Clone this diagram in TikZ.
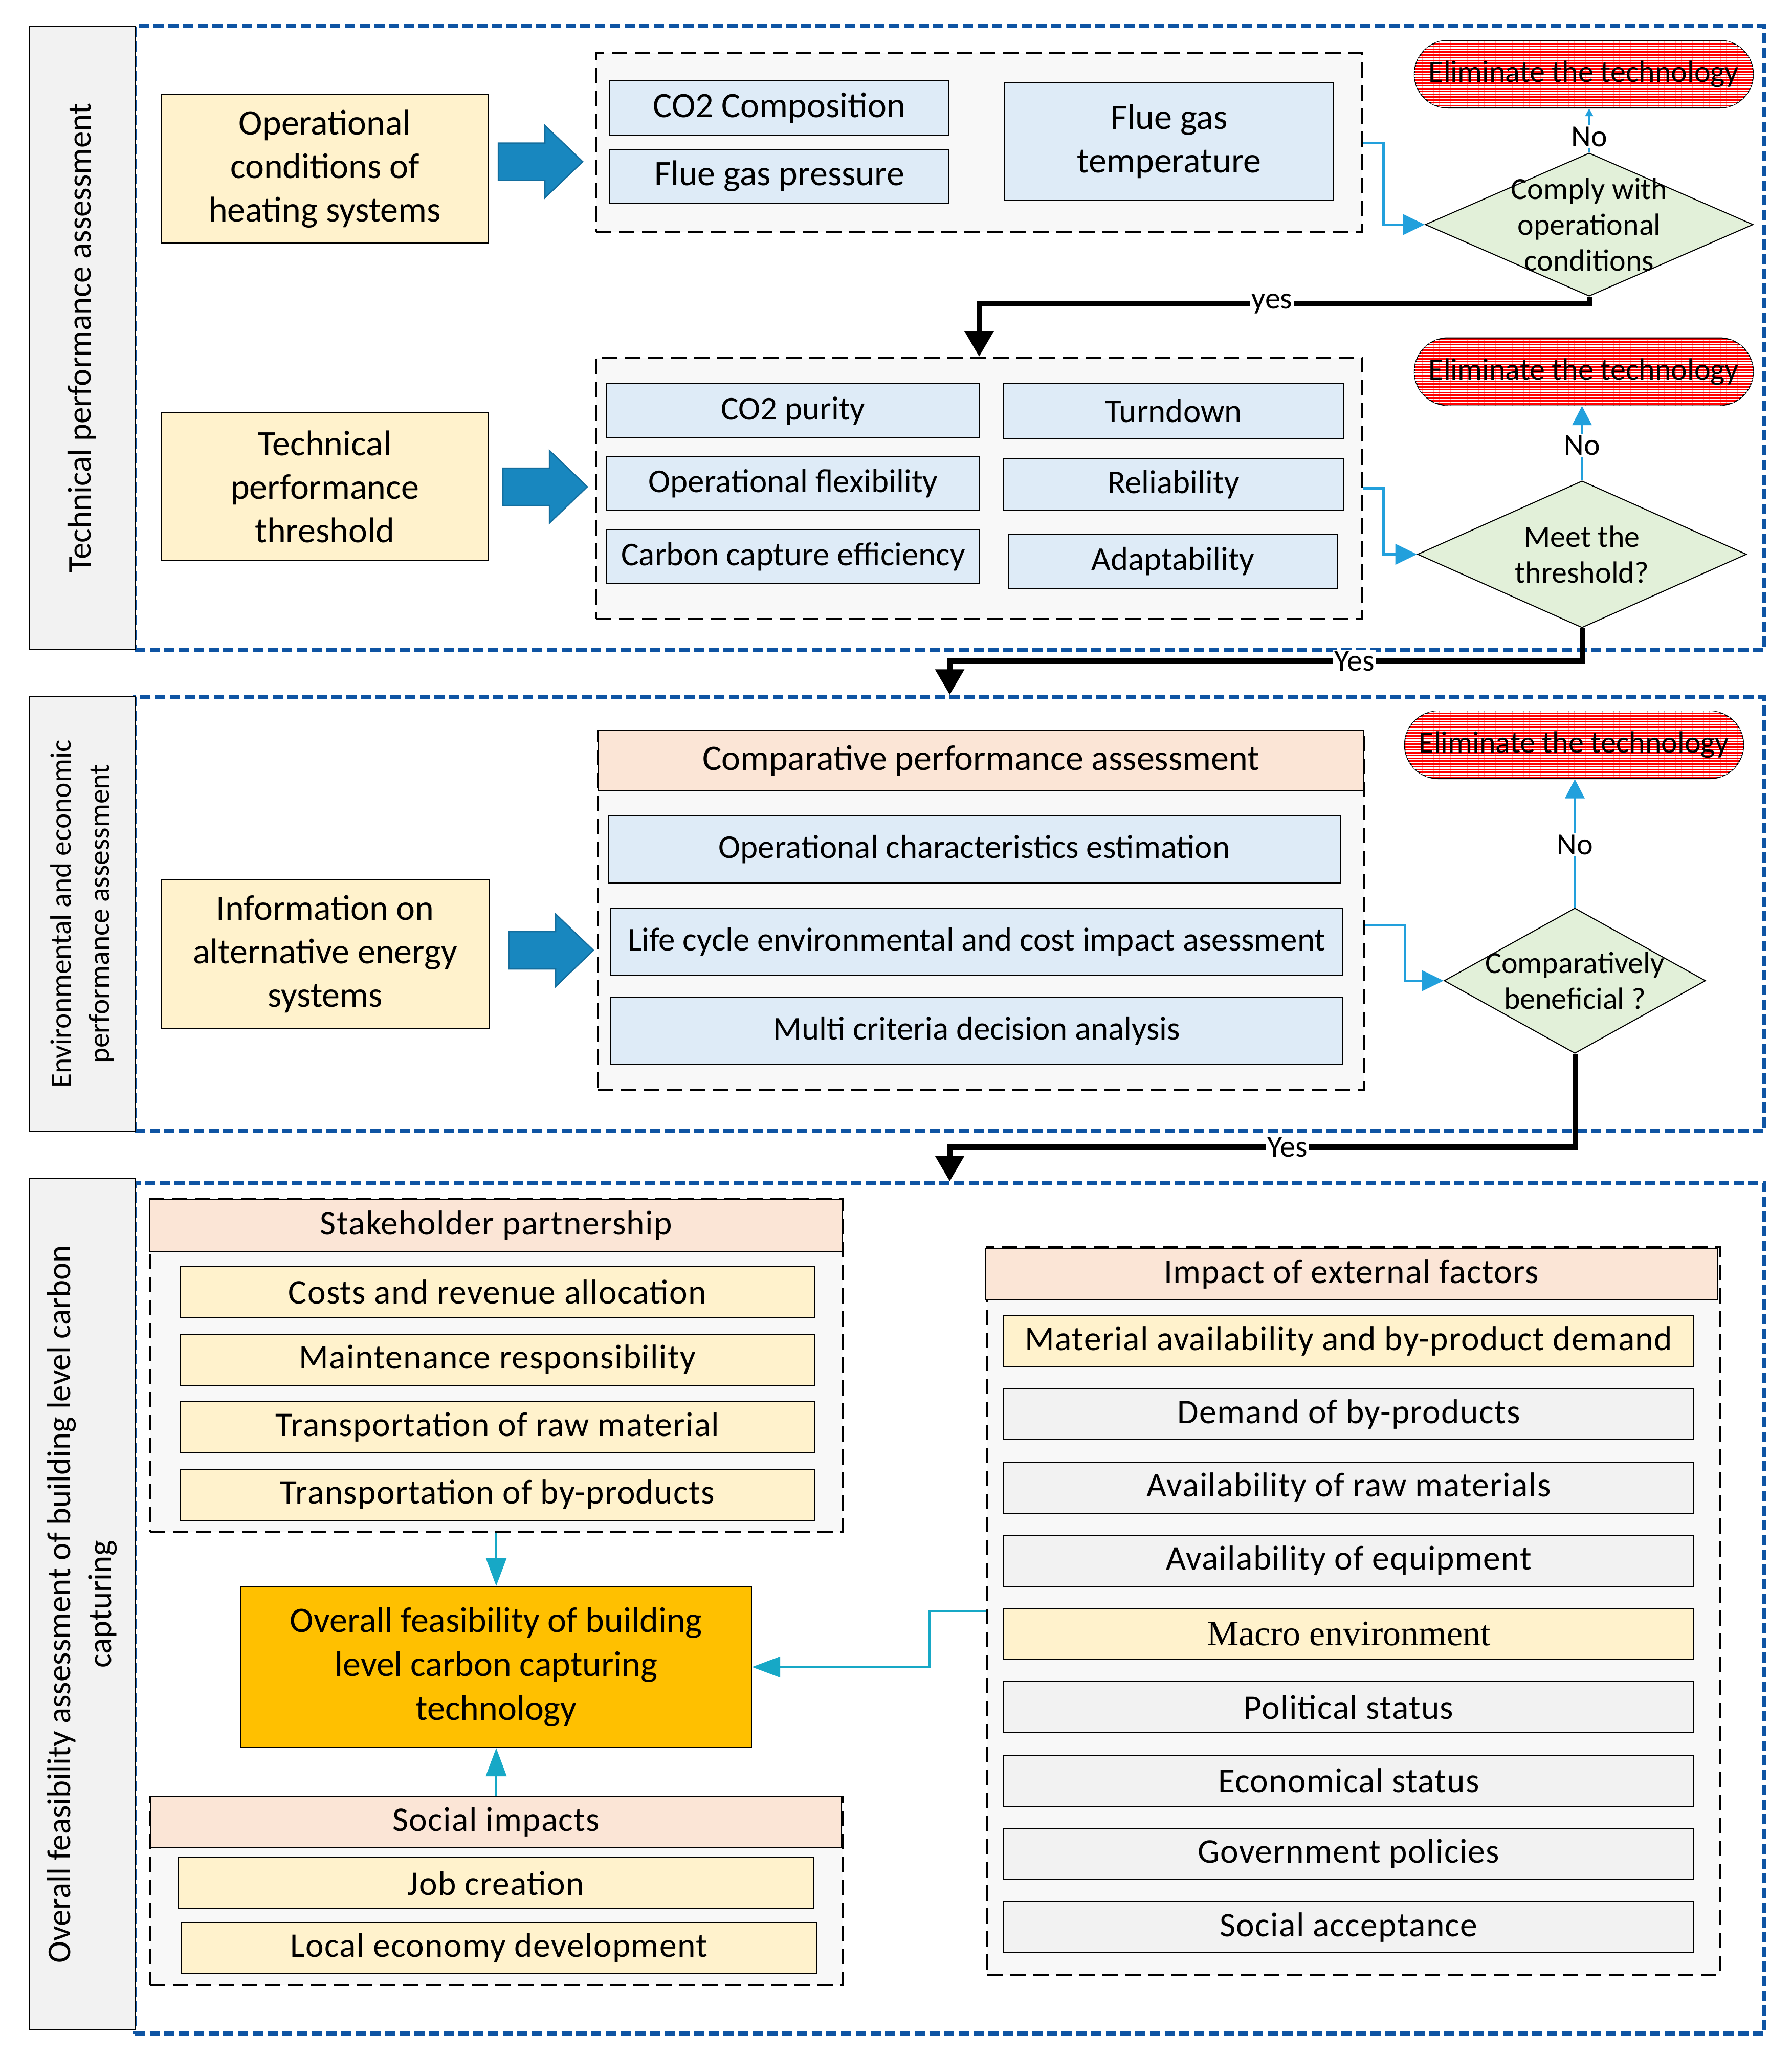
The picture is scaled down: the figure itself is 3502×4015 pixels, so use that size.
\documentclass[tikz,border=0pt]{standalone}
\usepackage{fontspec}
\setmainfont{Carlito}
\newfontfamily\macrofont{Liberation Serif}
\usepackage{tikz}
\usetikzlibrary{shapes.geometric, shapes.misc, arrows.meta, positioning, patterns.meta}
\definecolor{frameblue}{RGB}{14,84,163}
\definecolor{boxyellow}{RGB}{255,242,204}
\definecolor{boxblue}{RGB}{222,235,247}
\definecolor{boxgreen}{RGB}{226,240,217}
\definecolor{boxpeach}{RGB}{251,229,214}
\definecolor{boxgray}{RGB}{242,242,242}
\definecolor{groupgray}{RGB}{248,248,248}
\definecolor{arrowblue}{RGB}{24,135,191}
\definecolor{arrowedge}{RGB}{20,110,158}
\definecolor{linkblue}{RGB}{34,160,220}
\definecolor{linkteal}{RGB}{23,168,198}
\definecolor{overallorange}{RGB}{255,192,0}

\begin{document}
\begin{tikzpicture}[x=0.4pt, y=-0.4pt]
        \tikzstyle{frame} = [rectangle, draw=frameblue, line width=3pt, dash pattern=on 8pt off 3.5pt, inner sep=0pt]
        \tikzstyle{sidebox} = [rectangle, draw=black, fill=boxgray, line width=0.8pt, rotate=90, align=center, inner sep=0pt]
        \tikzstyle{source} = [rectangle, draw=black, fill=boxyellow, line width=0.8pt, align=center, inner sep=0pt, font=\fontsize{28}{34}\selectfont]
        \tikzstyle{group} = [rectangle, draw=black, fill=groupgray, line width=1.5pt, dash pattern=on 12pt off 6pt, inner sep=0pt]
        \tikzstyle{item} = [rectangle, draw=black, fill=boxblue, line width=0.8pt, align=center, inner sep=0pt, font=\fontsize{28}{34}\selectfont]
        \tikzstyle{smallitem} = [item, font=\fontsize{26}{32}\selectfont]
        \tikzstyle{header} = [rectangle, draw=black, fill=boxpeach, line width=0.8pt, inner sep=0pt, font=\fontsize{28}{34}\selectfont]
        \tikzstyle{factor} = [rectangle, draw=black, fill=boxyellow, line width=0.8pt, inner sep=0pt, minimum height=40pt, font=\fontsize{27}{32}\selectfont\addfontfeatures{LetterSpace=2}]
        \tikzstyle{grayfactor} = [factor, fill=boxgray, minimum width=539.6pt]
        \tikzstyle{decision} = [diamond, draw=black, fill=boxgreen, line width=0.8pt, inner sep=0pt]
        \tikzstyle{decisiontext} = [align=center, inner sep=0pt, font=\fontsize{24}{28}\selectfont]
        \tikzstyle{eliminate} = [rounded rectangle, draw=black, line width=0.8pt, fill=red, postaction={pattern={Lines[angle=0,distance=2.2pt,line width=1pt]}, pattern color=white}, minimum width=265pt, minimum height=52.8pt, inner sep=0pt, font=\fontsize{24}{28}\selectfont]
        \tikzstyle{overall} = [rectangle, draw=black, fill=overallorange, line width=0.8pt, align=center, inner sep=0pt, font=\fontsize{28}{34.4}\selectfont]
        \tikzstyle{bigarrow} = [fill=arrowblue, draw=arrowedge, line width=1pt]
        \tikzstyle{link} = [draw=linkblue, line width=2pt, -{Triangle[length=17pt,width=16pt]}]
        \tikzstyle{nolink} = [draw=linkblue, line width=2pt, -{Triangle[length=15pt,width=15pt]}]
        \tikzstyle{feed} = [draw=linkteal, line width=1.8pt, -{Triangle[length=22pt,width=16pt]}]
        \tikzstyle{flow} = [draw=black, line width=4pt, -{Triangle[length=20pt,width=22pt]}]
        \tikzstyle{flowlabel} = [fill=white, inner sep=1pt, font=\fontsize{24}{28}\selectfont]

        \useasboundingbox (0,0) rectangle (3502,4015);

        % section frames and side titles
        \node (frame1) [frame, minimum width=1274pt, minimum height=487.6pt] at (1856.5,660.5) {};
        \node (frame2) [frame, minimum width=1274pt, minimum height=339.2pt] at (1856.5,1786) {};
        \node (frame3) [frame, minimum width=1274pt, minimum height=664.8pt] at (1856.5,3144) {};
        \node (side1) [sidebox, minimum width=487.6pt, minimum height=82.8pt, font=\fontsize{26}{32}\selectfont] at (160.5,660.5) {Technical performance assessment};
        \node (side2) [sidebox, minimum width=339.6pt, minimum height=82.8pt, font=\fontsize{23}{30}\selectfont] at (160.5,1786.5) {Environmental and economic\\performance assessment};
        \node (side3) [sidebox, minimum width=665.2pt, minimum height=82.8pt, font=\fontsize{26}{32}\selectfont] at (160.5,3135.5) {Overall feasibility assessment of building level carbon\\capturing};

        % technical performance
        \node (ops) [source, minimum width=255.2pt, minimum height=116pt] at (635,330) {Operational\\conditions of\\heating systems};
        \node (thresh) [source, minimum width=255.2pt, minimum height=116pt] at (635,951) {Technical\\performance\\threshold};
        \node (info) [source, minimum width=256.4pt, minimum height=116pt] at (635.5,1865) {Information on\\alternative energy\\systems};

        \foreach \ax/\ay in {974/316, 983/951.5, 995/1857.5}
            \draw [bigarrow] (\ax,\ay-36.5) -- ++(91,0) -- ++(0,-34.5) -- (\ax+165,\ay) -- (\ax+91,\ay+71) -- ++(0,-34.5) -- (\ax,\ay+36.5) -- cycle;

        \node (group1) [group, minimum width=599.2pt, minimum height=140pt] at (1914,279) {};
        \node (co2comp) [item, minimum width=265.2pt, minimum height=42.8pt] at (1523.5,210.5) {CO2 Composition};
        \node (pressure) [item, minimum width=265.2pt, minimum height=42pt, below=10.4pt of co2comp] {Flue gas pressure};
        \node (temp) [item, minimum width=257.2pt, minimum height=92.4pt] at (2285.5,276.5) {Flue gas\\temperature};

        \node (group2) [group, minimum width=599.2pt, minimum height=204.4pt] at (1914,954.5) {};
        \node (purity) [smallitem, minimum width=291.6pt, minimum height=42.4pt] at (1550.5,803) {CO2 purity};
        \node (flex) [smallitem, minimum width=291.6pt, minimum height=42.4pt, below=13.6pt of purity] {Operational flexibility};
        \node (capeff) [smallitem, minimum width=291.6pt, minimum height=42.4pt, below=14pt of flex] {Carbon capture efficiency};
        \node (turndown) [smallitem, minimum width=265.6pt, minimum height=42.8pt] at (2294,803.5) {Turndown};
        \node (reliab) [smallitem, minimum width=265.6pt, minimum height=40.4pt, below=15.2pt of turndown] {Reliability};
        \node (adapt) [smallitem, minimum width=256.8pt, minimum height=42.4pt] at (2293,1097) {Adaptability};

        \node (comply) [decision, minimum width=256.4pt, minimum height=112pt] at (3106.5,439) {};
        \node (complytext) [decisiontext] at (comply) {Comply with\\operational\\conditions};
        \node (meet) [decision, minimum width=257.2pt, minimum height=114.8pt] at (3092.5,1083.5) {};
        \node (meettext) [decisiontext] at (meet) {Meet the\\threshold?};
        \node (elim1) [eliminate] at (3096,145) {Eliminate the technology};
        \node (elim2) [eliminate] at (3096,726.5) {Eliminate the technology};

        % environmental and economic performance
        \node (group3) [group, minimum width=598.8pt, minimum height=281.2pt] at (1917.5,1779.5) {};
        \node (header3) [header, minimum width=598.8pt, minimum height=47.2pt] at (1917.5,1487) {Comparative performance assessment};
        \node (ocest) [smallitem, minimum width=572.4pt, minimum height=52.4pt] at (1904.5,1660.5) {Operational characteristics estimation};
        \node (lca) [smallitem, minimum width=572.4pt, minimum height=52.8pt, below=18.8pt of ocest, xshift=2pt] {Life cycle environmental and cost impact asessment};
        \node (mcda) [smallitem, minimum width=572.4pt, minimum height=52.8pt, below=16pt of lca] {Multi criteria decision analysis};

        \node (benefit) [decision, minimum width=204.4pt, minimum height=113.6pt] at (3078.5,1917) {};
        \node (benefittext) [decisiontext] at (benefit) {Comparatively\\beneficial ?};
        \node (elim3) [eliminate] at (3077,1456) {Eliminate the technology};

        % overall feasibility
        \node (stake) [group, minimum width=541.6pt, minimum height=260pt] at (970,2669) {};
        \node (stakehead) [header, minimum width=541.6pt, minimum height=40.8pt, font=\fontsize{27}{32}\selectfont\addfontfeatures{LetterSpace=2}] at (970,2395) {Stakeholder partnership};
        \node (costs) [factor, minimum width=496.4pt] at (972.5,2525.5) {Costs and revenue allocation};
        \node (maint) [factor, minimum width=496.4pt, below=12pt of costs] {Maintenance responsibility};
        \node (rawtrans) [factor, minimum width=496.4pt, below=12pt of maint] {Transportation of raw material};
        \node (bytrans) [factor, minimum width=496.4pt, below=12pt of rawtrans] {Transportation of by-products};

        \node (overall) [overall, minimum width=399.2pt, minimum height=126pt] at (970,3258.5) {Overall feasibility of building\\level carbon capturing\\technology};

        \node (social) [group, minimum width=541.6pt, minimum height=147.6pt] at (970,3696.5) {};
        \node (socialhead) [header, minimum width=540pt, minimum height=39.6pt, font=\fontsize{27}{32}\selectfont\addfontfeatures{LetterSpace=2}] at (970,3561.5) {Social impacts};
        \node (job) [factor, minimum width=496.4pt] at (969.5,3681) {Job creation};
        \node (localeco) [factor, minimum width=496.4pt, below=9.6pt of job, xshift=2.4pt] {Local economy development};

        \node (external) [group, minimum width=573.2pt, minimum height=568.8pt] at (2646.5,3149) {};
        \node (exthead) [header, minimum width=572.4pt, minimum height=40.4pt, font=\fontsize{27}{32}\selectfont\addfontfeatures{LetterSpace=2}] at (2641.5,2490.5) {Impact of external factors};
        \node (matdemand) [factor, minimum width=539.6pt] at (2636.5,2621) {Material availability and by-product demand};
        \node (bydemand) [grayfactor, below=16.5pt of matdemand] {Demand of by-products};
        \node (rawavail) [grayfactor, below=16.5pt of bydemand] {Availability of raw materials};
        \node (equip) [grayfactor, below=16.5pt of rawavail] {Availability of equipment};
        \node (macro) [factor, minimum width=539.6pt, below=16.5pt of equip, font=\fontsize{28}{34}\macrofont] {Macro environment};
        \node (political) [grayfactor, below=16.5pt of macro] {Political status};
        \node (economic) [grayfactor, below=16.5pt of political] {Economical status};
        \node (policies) [grayfactor, below=16.5pt of economic] {Government policies};
        \node (acceptance) [grayfactor, below=16.5pt of policies] {Social acceptance};

        % connectors
        \draw [link] (group1.east) -- ++(40,0) |- (comply.west);
        \draw [link] (group2.east) -- ++(40,0) |- (meet.west);
        \draw [link] ([yshift=-11.4pt]group3.east) -- ++(79,0) |- (benefit.west);

        \draw [nolink, -{Triangle[length=6pt,width=6pt]}] (comply.north) -- node [flowlabel, pos=0.36] {No} (comply.north |- elim1.south);
        \draw [nolink] (meet.north) -- node [flowlabel, pos=0.47] {No} (meet.north |- elim2.south);
        \draw [nolink] (benefit.north) -- node [flowlabel, pos=0.49] {No} (benefit.north |- elim3.south);

        \draw [flow] (comply.south) -- ++(0,14) -| node [flowlabel, pos=0.26] {yes} (group2.north);
        \draw [flow] (meet.south) -- ++(0,64) -| node [flowlabel, pos=0.18] {Yes} (frame2.north);
        \draw [flow] (benefit.south) -- ++(0,182) -| node [flowlabel, pos=0.23] {Yes} (frame3.north);

        \draw [feed] (stake.south) -- (overall.north);
        \draw [feed] (social.north) -- (overall.south);
        \draw [feed] (external.west) -- ++(-111,0) |- (overall.east);
    \end{tikzpicture}
\end{document}
